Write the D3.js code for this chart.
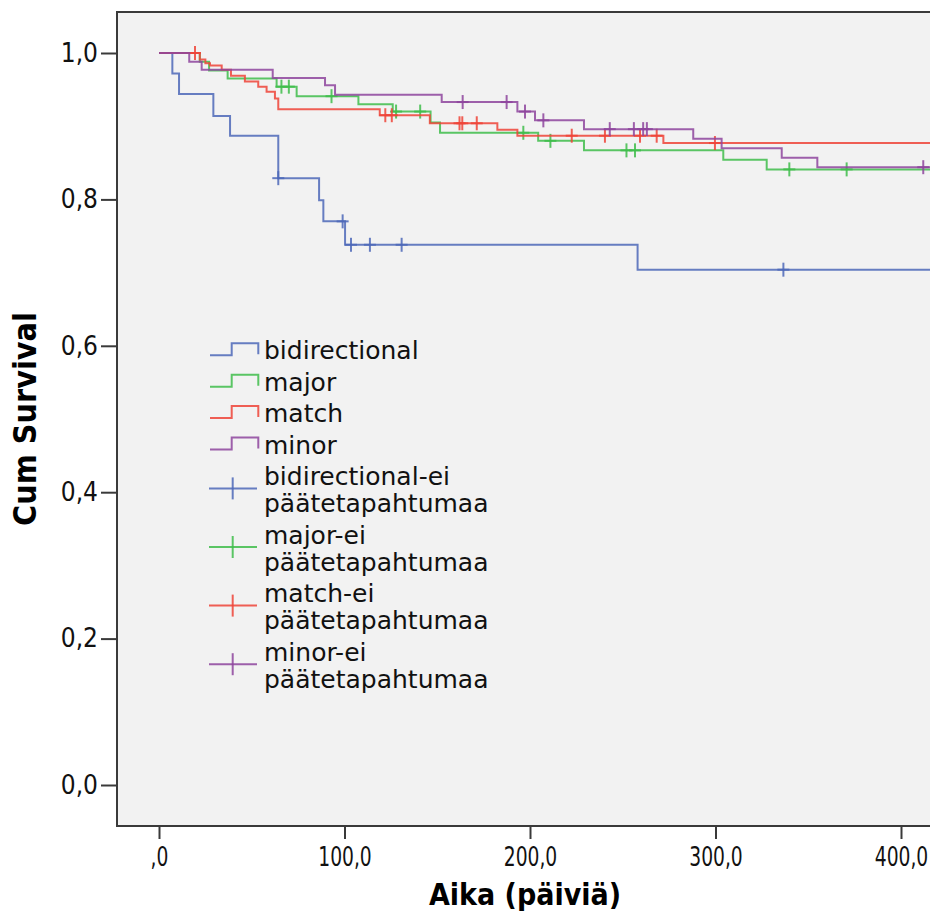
<!DOCTYPE html>
<html>
<head>
<meta charset="utf-8">
<script src="https://cdn.jsdelivr.net/npm/d3@7"></script>
<style>
  body { margin: 0; background: #fff; overflow: hidden; }
  svg { display: block; font-family: "DejaVu Sans Condensed", "DejaVu Sans", sans-serif; font-stretch: condensed; }
</style>
</head>
<body>
<svg id="chart" width="930" height="913"></svg>
<script>
// groups and colours
const groups = ["bidirectional", "major", "match", "minor"];
const colors = ["#4d68b9", "#3fbd4b", "#ee4438", "#8e459e"];

// step times (days) and survival after each step
const bidirTimes = [0, 7.2, 10.8, 29.3, 38.3, 64.3, 86.3, 88.6, 100.3, 258];
const bidirSurv  = [1, 0.972, 0.944, 0.914, 0.887, 0.829, 0.799, 0.770, 0.738, 0.704];
const bidirCens  = [64.3, 99, 103.5, 113.7, 130.8, 336.6];

const majorTimes = [0, 22, 27, 37, 63.4, 74.2, 107.5, 126, 146.4, 151.5, 204.4, 229.1, 304.2, 327.6];
const majorSurv  = [1, 0.988, 0.976, 0.965, 0.954, 0.941, 0.930, 0.920, 0.905, 0.891, 0.880, 0.867, 0.854, 0.841];
const majorCens  = [66, 70, 93, 127.8, 140.8, 196.4, 211, 252, 256.6, 339.8, 370.7];

const matchTimes = [0, 22, 25, 27.5, 33.8, 38.8, 46.3, 53.5, 58, 62.5, 64.3, 119, 146, 182.4, 193.2, 271.9];
const matchSurv  = [1, 0.991, 0.986, 0.983, 0.977, 0.969, 0.961, 0.954, 0.947, 0.938, 0.923, 0.915, 0.904, 0.895, 0.887, 0.877];
const matchCens  = [19.4, 122, 125.5, 162, 163.5, 171.3, 222.5, 240.4, 259.3, 268.3, 299.7];

const minorTimes = [0, 16.3, 23, 61.3, 89.5, 94.9, 152.4, 193.2, 202.7, 229.1, 288, 303.3, 335.7, 354.9];
const minorSurv  = [1, 0.988, 0.977, 0.966, 0.956, 0.943, 0.933, 0.920, 0.908, 0.896, 0.883, 0.870, 0.857, 0.844];
const minorCens  = [163.7, 187.4, 197.3, 207.2, 243, 256, 261, 263, 412];

const lastTime = [460, 460, 460, 460];

const xTicks = [0, 100, 200, 300, 400];
const yTicks = [0, 0.2, 0.4, 0.6, 0.8, 1.0];

const legendLabels = [
  ["bidirectional"], ["major"], ["match"], ["minor"],
  ["bidirectional-ei", "päätetapahtumaa"],
  ["major-ei", "päätetapahtumaa"],
  ["match-ei", "päätetapahtumaa"],
  ["minor-ei", "päätetapahtumaa"]
];

const series = [
  { times: bidirTimes, surv: bidirSurv, cens: bidirCens },
  { times: majorTimes, surv: majorSurv, cens: majorCens },
  { times: matchTimes, surv: matchSurv, cens: matchCens },
  { times: minorTimes, surv: minorSurv, cens: minorCens }
];

// layout
const plot = { left: 117, top: 12, right: 990, bottom: 826 };

const svg = d3.select("#chart");
const x = d3.scaleLinear().domain([0, 400]).range([159, 901]);
const y = d3.scaleLinear().domain([0, 1]).range([785, 53]);

svg.append("defs").append("clipPath").attr("id", "clip")
  .append("rect")
  .attr("x", plot.left).attr("y", plot.top)
  .attr("width", plot.right - plot.left).attr("height", plot.bottom - plot.top);

svg.append("rect")
  .attr("x", plot.left).attr("y", plot.top)
  .attr("width", plot.right - plot.left).attr("height", plot.bottom - plot.top)
  .attr("fill", "#f2f2f2");

const stepLine = d3.line()
  .x(d => x(d[0]))
  .y(d => y(d[1]))
  .curve(d3.curveStepAfter);

const g = svg.append("g").attr("clip-path", "url(#clip)");

function survAt(s, t) {
  let v = 1;
  s.times.forEach((tt, i) => { if (tt <= t) v = s.surv[i]; });
  return v;
}

series.forEach((s, i) => {
  const pts = s.times.map((t, j) => [t, s.surv[j]]);
  pts.push([lastTime[i], s.surv[s.surv.length - 1]]);
  g.append("path")
    .attr("d", stepLine(pts))
    .attr("fill", "none")
    .attr("stroke", colors[i])
    .attr("stroke-width", 2)
    .attr("stroke-opacity", 0.85);

  const cg = g.append("g").attr("stroke", colors[i]).attr("stroke-width", 2).attr("stroke-opacity", 0.85);
  s.cens.forEach(t => {
    const cx = x(t), cy = y(survAt(s, t));
    cg.append("line").attr("x1", cx - 6).attr("x2", cx + 6).attr("y1", cy).attr("y2", cy);
    cg.append("line").attr("x1", cx).attr("x2", cx).attr("y1", cy - 7).attr("y2", cy + 7);
  });
});

// frame
svg.append("path")
  .attr("d", `M${plot.right},${plot.top}H${plot.left}V${plot.bottom}H${plot.right}`)
  .attr("fill", "none")
  .attr("stroke", "#3a3a3a")
  .attr("stroke-width", 2);

// axes
const fmtY = d => d3.format(".1f")(d).replace(".", ",");
const fmtX = d => d === 0 ? ",0" : d3.format(".1f")(d).replace(".", ",");

const yAxis = svg.append("g")
  .attr("transform", `translate(${plot.left},0)`)
  .call(d3.axisLeft(y).tickValues(yTicks).tickFormat(fmtY).tickSize(16).tickPadding(3));
const xAxis = svg.append("g")
  .attr("transform", `translate(0,${plot.bottom})`)
  .call(d3.axisBottom(x).tickValues(xTicks).tickFormat(fmtX).tickSize(13).tickPadding(9));

[yAxis, xAxis].forEach(a => {
  a.select(".domain").remove();
  a.selectAll(".tick line").attr("stroke", "#3a3a3a").attr("stroke-width", 2);
  a.selectAll(".tick text")
    .attr("fill", "#111")
    .style("font-size", "26px")
    .style("font-family", '"DejaVu Sans Condensed", "DejaVu Sans", sans-serif');
});
// x tick labels are narrower in the original
xAxis.selectAll(".tick text").attr("transform", "scale(0.8,1)");

// axis titles
svg.append("text")
  .attr("transform", "translate(36,419) rotate(-90)")
  .attr("text-anchor", "middle")
  .style("font-size", "32px").style("font-weight", "bold")
  .text("Cum Survival");

svg.append("text")
  .attr("x", 525).attr("y", 905)
  .attr("text-anchor", "middle")
  .style("font-size", "30px").style("font-weight", "bold")
  .text("Aika (päiviä)");

// legend
const lineH = 27.2, gap = 4.2;
const lg = svg.append("g");
let base = 359.3;
legendLabels.forEach((lines, i) => {
  const ci = i % 4;
  const row = lg.append("g");
  if (i < 4) {
    row.append("path")
      .attr("d", `M210,${base - 4}H231.7V${base - 16}H258.3V${base - 5}`)
      .attr("fill", "none").attr("stroke", colors[ci])
      .attr("stroke-width", 2).attr("stroke-opacity", 0.85);
  } else {
    const cy = base + 3.5;
    row.append("line").attr("x1", 209).attr("x2", 257).attr("y1", cy).attr("y2", cy)
      .attr("stroke", colors[ci]).attr("stroke-width", 2).attr("stroke-opacity", 0.85);
    row.append("line").attr("x1", 232.7).attr("x2", 232.7).attr("y1", cy - 11).attr("y2", cy + 11)
      .attr("stroke", colors[ci]).attr("stroke-width", 2).attr("stroke-opacity", 0.85);
  }
  lines.forEach((t, k) => {
    row.append("text")
      .attr("x", 264).attr("y", base + k * lineH)
      .style("font-size", "25px").style("font-family", '"DejaVu Sans", sans-serif')
      .style("font-stretch", "normal")
      .attr("fill", "#111")
      .text(t);
  });
  base += lines.length * lineH + gap;
});
</script>
</body>
</html>
